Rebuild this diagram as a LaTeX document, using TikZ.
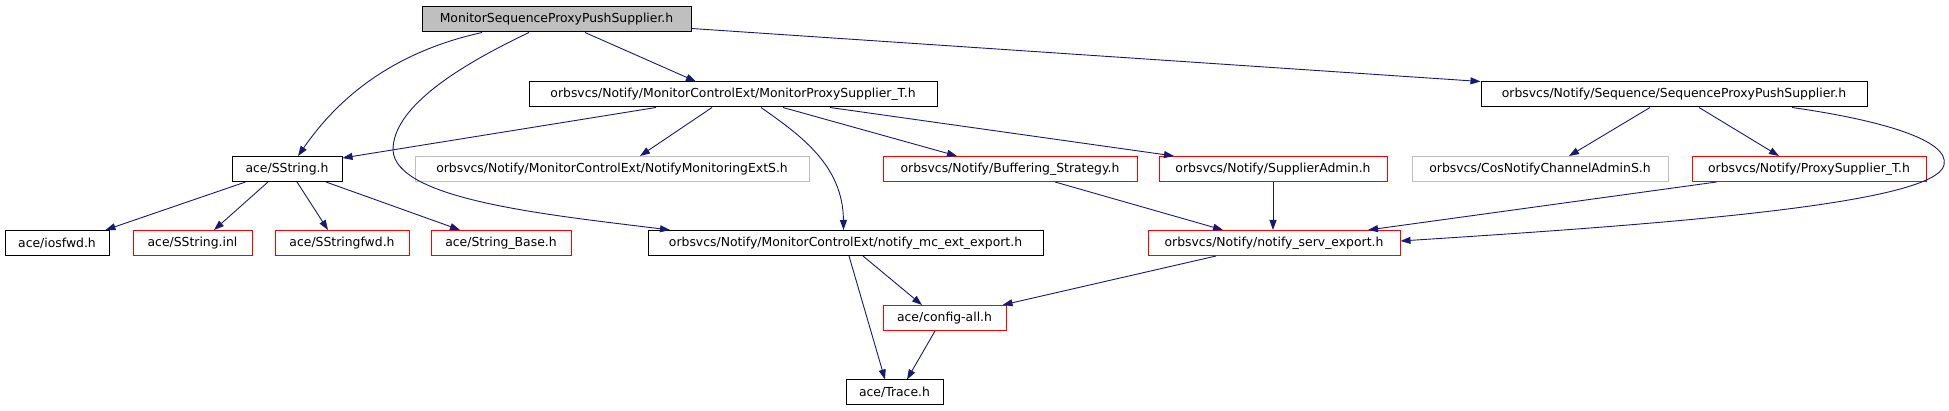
\documentclass[tikz,border=0pt]{standalone}
\usepackage{fontspec}
\setmainfont{DejaVu Sans}
\usepackage{xcolor}
\definecolor{cEdge}{HTML}{191970}
\definecolor{cRed}{HTML}{FF0000}
\definecolor{cGray}{HTML}{BFBFBF}
\usepackage{tikz}
\usetikzlibrary{positioning,arrows.meta}
\tikzset{
  hdr-box/.style={draw=black,line width=1pt,inner sep=0pt,
    minimum height=25pt,font=\fontsize{12.4}{14}\selectfont},
  % root file grey, missing files red, external ones grey outline
  hdr-root/.style={fill=cGray},
  hdr-red/.style={draw=cRed},
  hdr-gray/.style={draw=cGray},
  inc-arrow/.style={-{Triangle[length=10pt,width=7pt]},line width=0.9pt,draw=cEdge},
}

\begin{document}
\begin{tikzpicture}[x=1pt,y=-1pt]
  \useasboundingbox (0,0) rectangle (1949,411);
  \node[hdr-box,hdr-root,minimum width=269pt] (root) at (556.5,19.5) {MonitorSequenceProxyPushSupplier.h};
  \node[hdr-box,minimum width=408pt] (mps) at (733,94.5) {orbsvcs/Notify/MonitorControlExt/MonitorProxySupplier\_T.h};
  \node[hdr-box,minimum width=386pt] (seq) at (1674,94.5) {orbsvcs/Notify/Sequence/SequenceProxyPushSupplier.h};
  \node[hdr-box,minimum width=110pt] (sstr) at (287,169) {ace/SString.h};
  \node[hdr-box,hdr-gray,minimum width=394pt] (nmext) at (612,169) {orbsvcs/Notify/MonitorControlExt/NotifyMonitoringExtS.h};
  \node[hdr-box,hdr-red,minimum width=254pt] (buf) at (1010,169) {orbsvcs/Notify/Buffering\_Strategy.h};
  \node[hdr-box,hdr-red,minimum width=228pt] (sadm) at (1273,169) {orbsvcs/Notify/SupplierAdmin.h};
  \node[hdr-box,hdr-gray,minimum width=256pt] (cosn) at (1540,169) {orbsvcs/CosNotifyChannelAdminS.h};
  \node[hdr-box,hdr-red,minimum width=234pt] (psup) at (1809,169) {orbsvcs/Notify/ProxySupplier\_T.h};
  \node[hdr-box,minimum width=104pt] (iosfwd) at (57,243) {ace/iosfwd.h};
  \node[hdr-box,hdr-red,minimum width=119pt] (sinl) at (192.5,243) {ace/SString.inl};
  \node[hdr-box,hdr-red,minimum width=134pt] (sfwd) at (342,243) {ace/SStringfwd.h};
  \node[hdr-box,hdr-red,minimum width=140pt] (sbase) at (501,243) {ace/String\_Base.h};
  \node[hdr-box,minimum width=395pt] (mcexp) at (845.5,243) {orbsvcs/Notify/MonitorControlExt/notify\_mc\_ext\_export.h};
  \node[hdr-box,hdr-red,minimum width=252pt] (svexp) at (1274,243) {orbsvcs/Notify/notify\_serv\_export.h};
  \node[hdr-box,hdr-red,minimum width=123pt] (cfg) at (944.5,318) {ace/config-all.h};
  \node[hdr-box,minimum width=97pt] (trace) at (894.5,392.5) {ace/Trace.h};

  \draw[inc-arrow] ([xshift=-74.5pt]root.south) .. controls (380,55) and (330,110) .. ([xshift=11pt]sstr.north);
  \draw[inc-arrow] ([xshift=-27.5pt]root.south) .. controls (450,70) and (393,110) .. (393,150)
    .. controls (395,200) and (550,215) .. ([xshift=-175.5pt]mcexp.north);
  \draw[inc-arrow] ([xshift=28.5pt]root.south) -- ([xshift=-37pt]mps.north);
  \draw[inc-arrow] ([yshift=-9pt]root.east) -- (seq.north west);
  \draw[inc-arrow] ([xshift=-77pt]mps.south) -- ([yshift=-2pt]sstr.north east);
  \draw[inc-arrow] ([xshift=-21pt]mps.south) -- ([xshift=28pt]nmext.north);
  \draw[inc-arrow] ([xshift=28pt]mps.south) .. controls (800,135) and (843,165) .. ([xshift=-2pt]mcexp.north);
  \draw[inc-arrow] ([xshift=50pt]mps.south) -- ([xshift=-53pt]buf.north);
  \draw[inc-arrow] ([xshift=97pt]mps.south) -- ([xshift=-99pt]sadm.north);
  \draw[inc-arrow] ([xshift=-24pt]seq.south) -- ([xshift=29pt]cosn.north);
  \draw[inc-arrow] ([xshift=25pt]seq.south) -- ([xshift=-30pt]psup.north);
  \draw[inc-arrow] ([xshift=118pt]seq.south) .. controls (1880,120) and (1950,140) .. (1944,165)
    .. controls (1935,205) and (1650,225) .. ([yshift=2pt]svexp.east);
  \draw[inc-arrow] ([xshift=-41.5pt]sstr.south) -- ([xshift=-4pt]iosfwd.north east);
  \draw[inc-arrow] ([xshift=-19pt]sstr.south) -- ([xshift=21.5pt]sinl.north);
  \draw[inc-arrow] ([xshift=10pt]sstr.south) -- ([xshift=-14pt]sfwd.north);
  \draw[inc-arrow] ([xshift=39pt]sstr.south) -- ([xshift=-41pt]sbase.north);
  \draw[inc-arrow] ([xshift=45pt]buf.south) -- ([xshift=-51pt]svexp.north);
  \draw[inc-arrow] (sadm.south) -- (sadm.south |- svexp.north);
  \draw[inc-arrow] ([xshift=-92.5pt]psup.south) -- ([xshift=94pt]svexp.north);
  \draw[inc-arrow] ([xshift=3.5pt]mcexp.south) -- ([xshift=-9.5pt]trace.north);
  \draw[inc-arrow] ([xshift=17.5pt]mcexp.south) -- ([xshift=-22.5pt]cfg.north);
  \draw[inc-arrow] ([xshift=-58pt]svexp.south) -- ([xshift=-4pt]cfg.north east);
  \draw[inc-arrow] ([xshift=-9.5pt]cfg.south) -- ([xshift=12.5pt]trace.north);
\end{tikzpicture}
\end{document}
